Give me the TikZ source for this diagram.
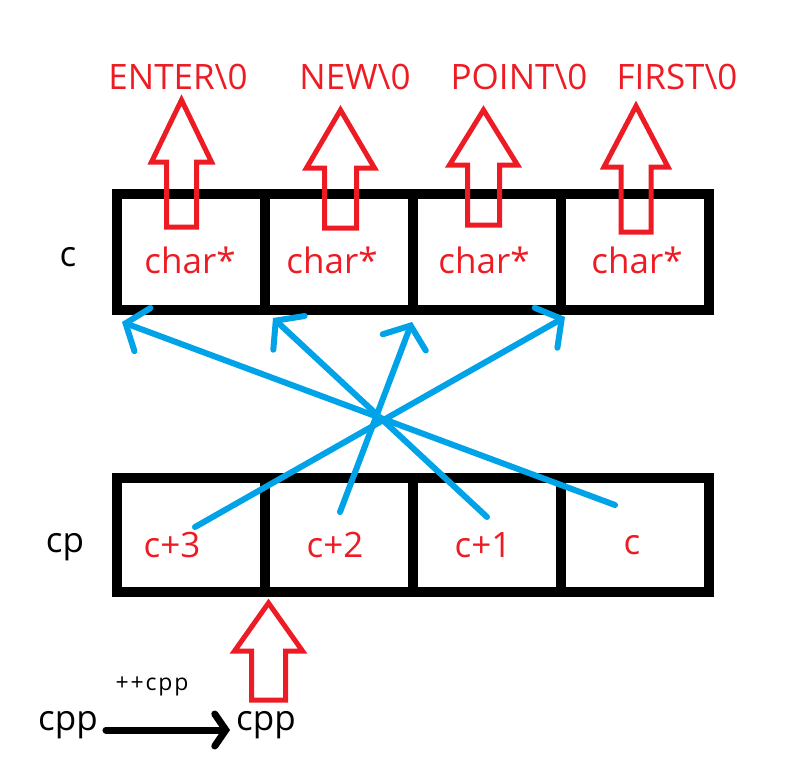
\documentclass[tikz,border=0pt]{standalone}
\usepackage{fontspec}
\setmainfont{Open Sans}
\usetikzlibrary{arrows.meta,calc}
\definecolor{rd}{HTML}{ED1C24}
\definecolor{bl}{HTML}{00A2E8}
\newcommand\hollowup[6]{%
  \draw[hollow] (#1,#2) -- (#1+#5,#3) -- (#1+#6,#3) -- (#1+#6,#4) -- (#1-#6,#4) -- (#1-#6,#3) -- (#1-#5,#3) -- cycle;}
\begin{document}
\begin{tikzpicture}[x=1pt,y=-1pt,
  cell/.style={draw=black,line width=10pt,minimum width=148pt,inner sep=0pt,outer sep=0pt},
  topcell/.style={cell,minimum height=116pt},
  botcell/.style={cell,minimum height=114pt},
  rtxt/.style={text=rd,font=\fontsize{35}{40}\selectfont,inner sep=0pt},
  ktxt/.style={text=black,font=\fontsize{35}{40}\selectfont,inner sep=0pt},
  stxt/.style={text=black,font=\fontsize{23}{27}\selectfont\addfontfeatures{LetterSpace=8},inner sep=0pt},
  hollow/.style={draw=rd,line width=5pt,line join=miter},
  ptr/.style={draw=bl,line width=6pt,line cap=round,line join=round,
    -{Straight Barb[length=18pt,width=46pt,line cap=round]}},
  blk/.style={draw=black,line width=7pt,line cap=round,line join=round,
    -{Straight Barb[length=11pt,width=32pt,line cap=round]}},
]
\useasboundingbox (0,0) rectangle (805,768);
% top row
\node[topcell] (t1) at (191,252) {};
\node[topcell] (t2) at (339,252) {};
\node[topcell] (t3) at (487,252) {};
\node[topcell] (t4) at (635,252) {};
% bottom row
\node[botcell] (b1) at (191,535) {};
\node[botcell] (b2) at (339,535) {};
\node[botcell] (b3) at (487,535) {};
\node[botcell] (b4) at (635,535) {};
% row labels
\node[ktxt] (lc) at (68,257) {c};
\node[ktxt] (lcp) at (65,547) {cp};
% cell texts
\node[rtxt] (ch1) at (190,260) {char*};
\node[rtxt] (ch2) at (332,260) {char*};
\node[rtxt] (ch3) at (484,260) {char*};
\node[rtxt] (ch4) at (637,260) {char*};
\node[rtxt] (p3) at (172,545) {c+3};
\node[rtxt] (p2) at (335,545) {c+2};
\node[rtxt] (p1) at (483,545) {c+1};
\node[rtxt] (p0) at (632,545) {c};
% strings
\node[rtxt] (s1) at (178,77) {ENTER\textbackslash0};
\node[rtxt] (s2) at (355,77) {NEW\textbackslash0};
\node[rtxt] (s3) at (519,77) {POINT\textbackslash0};
\node[rtxt] (s4) at (677,77) {FIRST\textbackslash0};
% red hollow arrows
\hollowup{181.5}{100}{162}{227}{30}{15}
\hollowup{340.5}{110}{168}{228}{34}{16}
\hollowup{483.5}{110}{165}{225}{34}{16}
\hollowup{636}{106}{167}{232}{32}{15}
\hollowup{268.5}{603}{651}{700}{34}{17}
% blue pointers
\coordinate (a0) at ($(b4.center)+(-20,-30)$);
\coordinate (a1) at ($(b3.center)+(0,-18)$);
\coordinate (a2) at ($(b2.center)+(1,-23)$);
\coordinate (a3) at ($(b1.center)+(4,-8)$);
\coordinate (e1) at ($(t1.south west)+(5,12)$);
\coordinate (e2) at ($(t2.south west)+(8,8)$);
\coordinate (e3) at ($(t3.south west)+(-1,12)$);
\coordinate (e4) at ($(t4.south west)+(4,7)$);
\draw[ptr] (a0) -- (e1);
\draw[ptr] (a1) -- (e2);
\draw[ptr] (a2) -- (e3);
\draw[ptr] (a3) -- (e4);
% cpp
\node[ktxt] (cppL) at (68,725) {cpp};
\node[ktxt] (cppR) at (266,725) {cpp};
\node[stxt] (inc) at (152,686) {++cpp};
\draw[blk] ([xshift=8pt,yshift=-5pt]cppL.east) -- ([xshift=-6pt,yshift=-5pt]cppR.west);
\end{tikzpicture}
\end{document}
